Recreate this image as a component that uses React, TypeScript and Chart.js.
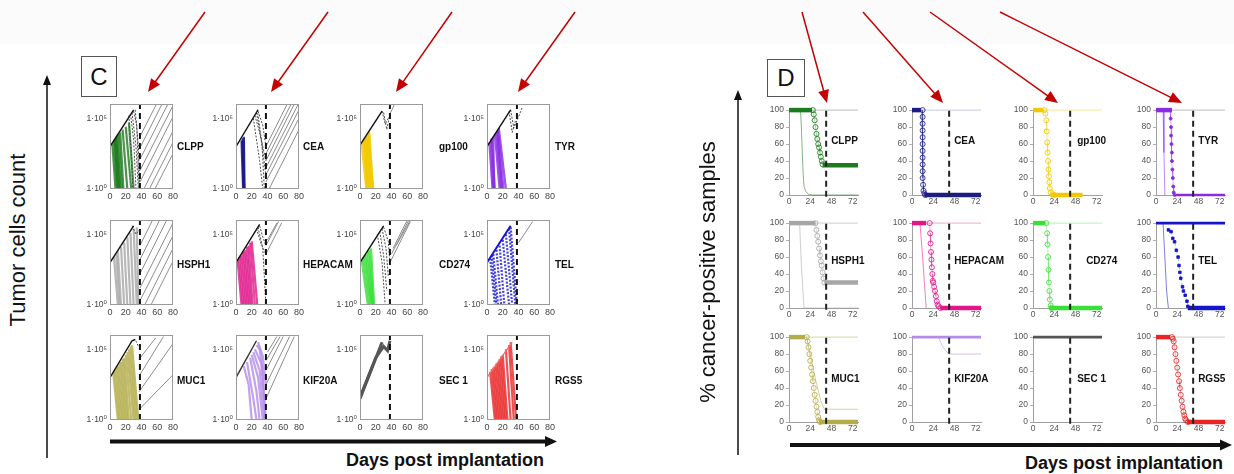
import React, { useEffect, useRef } from "react";
import { Chart, registerables } from "chart.js";
Chart.register(...registerables);

const FONT = "'Liberation Sans', 'DejaVu Sans', Arial, sans-serif";

const GENES = ["CLPP", "CEA", "gp100", "TYR", "HSPH1", "HEPACAM", "CD274", "TEL", "MUC1", "KIF20A", "SEC 1", "RGS5"];
const GENE_COLORS = ["#1d7a1d", "#1c1c85", "#f2c900", "#8a2be2", "#a6a6a6", "#e0168a", "#38e038", "#1515cc", "#b3ac4a", "#b48be8", "#555555", "#e82525"];

// ---------- Panel C: tumor cell counts (log10 exponents), polylines [day, exp, day, exp, ...]
const C_X_TICKS = [0, 20, 40, 60, 80];
const C_Y_LABELS = ["1·10⁰", "1·10⁵"];
const C_THRESHOLD_DAY = 38;

const C_GROWTH = [
  [[0, 3.0, 30, 5.6]],
  [[0, 3.0, 28, 5.6]],
  [[0, 3.1, 28, 5.5]],
  [[0, 3.0, 30, 5.6]],
  [[0, 3.0, 30, 5.6]],
  [[0, 3.0, 30, 5.7]],
  [[0, 3.0, 30, 5.6]],
  [[0, 3.0, 30, 5.6]],
  [[0, 3.0, 28, 5.6, 32, 5.7]],
  [[0, 3.0, 26, 5.6]],
  [[0, 1.5, 28, 5.5], [0, 1.6, 20, 4.4, 30, 5.2, 35, 4.9, 38, 5.6]],
  [[0, 3.0, 32, 5.5]],
];
const C_GROWTH_COLORS = ["#111", "#111", "#111", "#111", "#111", "#111", "#111", "#1515cc", "#111", "#333", "#555", "#f07070"];
const C_GROWTH_WIDTHS = [1.4, 1.4, 1.4, 1.4, 1.4, 1.4, 1.4, 2, 1.4, 1.4, 3, 1.4];

const C_RESPONSE = [
  [[3, 3.2, 7, 0], [5, 3.4, 9, 0], [6, 3.5, 10, 0], [7, 3.6, 11, 0], [8, 3.7, 12, 0], [9, 3.8, 13, 0], [11, 3.9, 15, 0], [13, 4.0, 17, 0], [16, 4.2, 22, 0], [20, 4.4, 27, 0], [24, 4.7, 30, 0]],
  [[7, 3.4, 9, 0], [8, 3.5, 9.5, 0], [9, 3.6, 10, 0], [10, 3.7, 11, 0], [8, 3.4, 10.5, 0]],
  [[2, 3.2, 8, 0], [4, 3.4, 10, 0], [5, 3.5, 9, 0], [6, 3.6, 12, 0], [7, 3.6, 11, 0], [8, 3.7, 14, 0], [9, 3.7, 13, 0], [10, 3.8, 15, 0], [11, 3.9, 17, 0], [12, 4.0, 16, 0]],
  [[3, 3.3, 7, 0], [5, 3.5, 8, 0], [6, 3.6, 10, 0], [8, 3.7, 9, 0], [10, 3.9, 16, 0], [12, 4.0, 18, 0], [13, 4.1, 19, 0], [14, 4.2, 21, 0], [15, 4.3, 24, 0]],
  [[5, 3.4, 10, 0], [8, 3.6, 12, 0], [10, 3.8, 14, 0], [14, 4.1, 18, 0], [18, 4.4, 22, 0], [22, 4.8, 26, 0], [26, 5.1, 30, 0], [30, 5.4, 34, 0], [34, 5.5, 36, 0]],
  [[2, 3.2, 7, 0], [4, 3.4, 9, 0], [6, 3.5, 11, 0], [8, 3.7, 13, 0], [10, 3.8, 15, 0], [12, 3.9, 17, 0], [14, 4.1, 19, 0], [16, 4.2, 21, 0], [18, 4.4, 24, 0], [20, 4.5, 27, 0]],
  [[2, 3.2, 10, 0], [4, 3.4, 12, 0], [6, 3.5, 14, 0], [8, 3.6, 15, 0], [10, 3.8, 16, 0], [12, 3.9, 17, 0], [14, 4.0, 18, 0]],
  [[4, 3.3, 10, 0], [6, 3.5, 12, 0], [8, 3.6, 14, 0], [12, 3.9, 18, 0], [16, 4.2, 22, 0], [20, 4.6, 28, 0], [24, 5.0, 32, 0], [28, 5.4, 36, 0], [30, 5.5, 38, 0]],
  [[4, 3.4, 10, 0], [6, 3.5, 12, 0], [8, 3.7, 14, 0], [10, 3.8, 16, 0], [12, 4.0, 18, 0], [14, 4.1, 20, 0], [16, 4.3, 22, 0], [18, 4.4, 24, 0], [20, 4.6, 27, 0], [22, 4.8, 30, 0], [24, 5.0, 32, 0], [26, 5.2, 34, 0], [28, 5.3, 36, 0]],
  [[10, 3.8, 16, 2.5, 20, 0], [14, 4.1, 22, 1.5, 26, 0], [18, 4.4, 26, 2.0, 30, 0], [20, 4.6, 28, 3.0, 34, 0], [22, 4.8, 30, 3.5, 36, 0], [24, 5.0, 32, 4.0, 38, 0], [26, 5.3, 30, 5.0, 34, 3.5, 37, 0], [28, 5.5, 34, 4.5, 38, 2.5]],
  [],
  [[4, 3.4, 10, 0], [6, 3.6, 12, 0], [8, 3.7, 14, 0], [10, 3.8, 16, 0], [12, 4.0, 18, 0], [14, 4.1, 20, 0], [16, 4.3, 22, 0], [18, 4.5, 24, 0], [20, 4.6, 26, 0], [24, 5.0, 30, 0], [28, 5.3, 34, 0], [30, 5.5, 37, 0]],
];
const C_RESPONSE_DOTTED = [false, false, false, false, false, false, false, true, false, false, false, false];

const C_DECLINE = [
  [[24, 5.2, 27, 2.5, 29, 0], [26, 5.3, 30, 3.5, 33, 0], [28, 5.4, 33, 3.0, 36, 0], [30, 5.5, 34, 4.5, 37, 0], [32, 5.6, 36, 3.0, 38, 0]],
  [[22, 5.0, 30, 2.0, 34, 0], [24, 5.2, 30, 4.0, 38, 2.0], [26, 5.4, 32, 3.5, 38, 1.0], [27, 5.6, 33, 3.2, 36, 0], [28, 5.5, 34, 4.5, 38, 3.0]],
  [[28, 5.5, 32, 4.6, 36, 5.0], [30, 5.4, 34, 4.2, 38, 5.3]],
  [[28, 5.5, 32, 4.0, 36, 4.8], [30, 5.6, 34, 4.3, 40, 5.1, 45, 5.8]],
  [[28, 5.6, 33, 5.0, 37, 5.3]],
  [[26, 5.4, 32, 4.3, 38, 3.6], [28, 5.5, 34, 4.0, 37, 1.0, 38, 0], [30, 5.6, 34, 4.8, 38, 4.2]],
  [[22, 5.0, 28, 3.0, 32, 0], [25, 5.2, 30, 3.5, 34, 1.0], [28, 5.4, 33, 4.0, 36, 2.0], [30, 5.5, 36, 4.5, 38, 3.0]],
  [],
  [[26, 5.5, 32, 5.7, 36, 5.2]],
  [],
  [],
  [],
];

const C_REGROWTH = [
  [[38, 0.5, 80, 5.1], [38, 1.3, 80, 5.9], [38, 2.1, 73.5, 6.0], [38, 2.9, 66, 6.0], [38, 3.7, 59, 6.0], [43, 0, 80, 4.1], [50, 0, 80, 3.3], [57, 0, 80, 2.5]],
  [[38, 1.0, 80, 5.6], [38, 2.0, 74, 6.0], [38, 3.0, 65, 6.0], [38, 1.5, 80, 6.1], [38, 0.5, 80, 5.0], [42, 0, 80, 4.2], [38, 2.5, 70, 6.0]],
  [[38, 5.3, 44, 6.0]],
  [],
  [[38, 0.3, 80, 4.9], [38, 1.2, 80, 5.8], [38, 2.2, 72, 6.0], [38, 3.2, 63, 6.0], [44, 0, 80, 4.0], [52, 0, 80, 3.1], [38, 4.2, 54, 6.0]],
  [[38, 3.6, 58, 5.8], [38, 4.2, 54, 5.9], [40, 4.6, 52, 5.8]],
  [[38, 3.0, 64, 5.9], [40, 3.6, 62, 6.0], [42, 4.0, 60, 6.0], [46, 4.2, 64, 6.0]],
  [[40, 4.4, 58, 5.9]],
  [[37, 2.0, 80, 5.4], [38, 0.8, 80, 3.2], [37, 4.3, 58, 5.8], [38, 3.2, 68, 5.9]],
  [[38, 2.5, 68, 5.9], [38, 3.5, 60, 5.9], [38, 4.2, 56, 5.9], [40, 4.8, 52, 5.9], [38, 1.5, 74, 5.9]],
  [],
  [],
];

// ---------- Panel D: % cancer-positive samples, polylines [day, %, day, %, ...]
const D_X_TICKS = [0, 24, 48, 72];
const D_Y_TICKS = [0, 20, 40, 60, 80, 100];
const D_THRESHOLD_DAY = 42;
const D_TOP_COLORS = ["#bbbbbb", "#c8c8e0", "#f5e79a", "#bdbdbd", "#cfcfcf", "#f2a6cc", "#b5f0b5", "#1515cc", "#d8d4a0", "#b48be8", "#555555", "#cccccc"];

const D_THIN = [
  [0, 100, 13, 100, 14, 80, 15, 50, 16, 25, 17, 10, 19, 4, 22, 1, 26, 0, 78, 0],
  [0, 100, 11, 100, 12, 60, 13, 5, 14, 0],
  [],
  [0, 100, 8, 100, 9, 50, 10, 0],
  [0, 100, 12, 100, 14, 50, 17, 0, 78, 0],
  [0, 100, 9, 100, 12, 60, 16, 0],
  [],
  [0, 100, 8, 100, 10, 60, 12, 20, 14, 0],
  [0, 100, 20, 100, 24, 80, 30, 50, 36, 25, 40, 15, 78, 15],
  [0, 100, 30, 100, 34, 90, 38, 84, 42, 80, 78, 80],
  [],
  [],
];

const D_MARKED = [
  [27, 100, 28, 95, 29, 88, 30, 80, 31, 72, 32, 66, 33, 60, 34, 56, 35, 50, 36, 45, 37, 40, 38, 36],
  [12, 100, 12, 92, 12, 84, 12, 76, 12, 68, 12, 60, 12, 52, 12, 44, 12, 36, 12, 28, 12, 20, 12.5, 12, 13, 5, 14, 2, 15, 0],
  [13, 100, 14, 96, 15, 88, 15.5, 75, 16, 62, 16.5, 50, 17, 40, 17.5, 30, 18, 22, 18.5, 15, 19, 8, 20, 3, 22, 1, 24, 0],
  [16, 100, 16.5, 90, 17, 80, 17, 70, 17.5, 60, 18, 50, 18, 40, 18.5, 30, 19, 20, 19.5, 10, 20, 3, 21, 0],
  [30, 100, 31, 92, 32, 85, 33, 78, 34, 70, 35, 62, 36, 55, 37, 50, 38, 42, 39, 35, 40, 30],
  [20, 100, 20.5, 88, 21, 76, 21.5, 66, 22, 57, 22.5, 48, 23, 40, 23.5, 32, 24, 30, 25, 25, 26, 20, 27, 14, 28, 8, 29, 4, 30, 2, 32, 0],
  [15, 100, 16, 88, 16.5, 75, 17, 60, 17.5, 45, 18, 30, 18.5, 20, 19, 10, 20, 3, 21, 0],
  [14, 92, 17, 90, 19, 82, 21, 78, 23, 68, 25, 60, 26, 50, 27, 42, 28, 35, 30, 25, 31, 20, 33, 15, 35, 8, 36, 2, 38, 0],
  [20, 100, 21, 95, 22, 88, 23, 80, 24, 72, 25, 64, 26, 56, 27, 48, 28, 40, 29, 32, 30, 25, 31, 18, 32, 12, 33, 6, 34, 2, 35, 0],
  [],
  [],
  [18, 100, 19, 98, 20, 95, 21, 88, 22, 80, 23, 72, 24, 64, 25, 56, 26, 48, 27, 40, 28, 32, 29, 25, 30, 18, 31, 12, 32, 8, 33, 4, 34, 2, 36, 0],
];
const D_MARKER = ["ring", "ring", "ring", "dot", "ring", "ring", "ring", "square", "ring", "none", "none", "ring"];

const D_PLATEAU = [
  [[0, 100, 26, 100], [38, 35, 78, 35]],
  [[0, 100, 10, 100], [14, 0, 78, 0]],
  [[0, 100, 12, 100], [20, 0, 56, 0]],
  [[0, 100, 18, 100]],
  [[0, 100, 30, 100], [40, 30, 78, 30]],
  [[0, 100, 16, 100], [32, 0, 78, 0]],
  [[0, 100, 14, 100], [18, 0, 78, 0]],
  [[36, 0, 78, 0]],
  [[0, 100, 18, 100], [34, 0, 78, 0]],
  [],
  [],
  [[0, 100, 16, 100], [35, 0, 78, 0]],
];
const D_BAND = [
  [], [], [], [[22, 0, 78, 0]], [], [], [], [[0, 100, 78, 100]], [], [[0, 100, 78, 100]], [[0, 100, 78, 100]], [],
];

// ---------- layout
const C_COLS = [110, 236, 360, 487];
const C_ROWS = [102, 218, 333];
const C_PW = 64, C_PH = 87;
const C_LABEL_DX = [3, 3, 15, 4];
const C_LABEL_Y = [146, 264, 380];
const D_COLS = [789, 912, 1033, 1156];
const D_ROWS = [109, 222, 336];
const D_PW = 69, D_PH = 86;
const D_LABEL_Y = [140, 260, 378];
const D_LABEL_EXTRA = [0, 0, 2, 0, 0, 0, 11, 0, 0, 0, 2, 0];

function hexA(hex: string, a: number) {
  const h = hex.replace("#", "");
  const f = h.length === 3 ? h.split("").map((c) => c + c).join("") : h;
  const r = parseInt(f.slice(0, 2), 16), g = parseInt(f.slice(2, 4), 16), b = parseInt(f.slice(4, 6), 16);
  return `rgba(${r},${g},${b},${a})`;
}
function logPts(arr: number[]) {
  const out: any[] = [];
  for (let k = 0; k < arr.length; k += 2) out.push({ x: arr[k], y: Math.pow(10, arr[k + 1]) });
  return out;
}
function linPts(arr: number[]) {
  const out: any[] = [];
  for (let k = 0; k < arr.length; k += 2) out.push({ x: arr[k], y: arr[k + 1] });
  return out;
}
function lineDs(data: any[], color: string, width: number, dash?: number[], extra?: any) {
  return {
    data, borderColor: color, backgroundColor: color, borderWidth: width, borderDash: dash || [],
    pointRadius: 0, fill: false, tension: 0, ...(extra || {}),
  };
}

const boxPlugin = {
  id: "box",
  afterDraw(chart: any) {
    const { ctx, chartArea: a } = chart;
    ctx.save();
    ctx.strokeStyle = "#9a9a9a";
    ctx.lineWidth = 1;
    ctx.strokeRect(Math.round(a.left) + 0.5, Math.round(a.top) + 0.5, Math.round(a.right - a.left) - 1, Math.round(a.bottom - a.top) - 1);
    ctx.restore();
  },
};

function buildC(i: number) {
  const color = GENE_COLORS[i];
  const layers: any[] = [];
  C_REGROWTH[i].forEach((l) => layers.push(lineDs(logPts(l), "#8c8c8c", 1)));
  C_RESPONSE[i].forEach((l) => layers.push(lineDs(logPts(l), hexA(color, 0.8), 2.2, C_RESPONSE_DOTTED[i] ? [2, 1.5] : undefined)));
  C_DECLINE[i].forEach((l) => layers.push(lineDs(logPts(l), "#4a4a4a", 1, [2, 1.5])));
  C_GROWTH[i].forEach((l) => layers.push(lineDs(logPts(l), C_GROWTH_COLORS[i], C_GROWTH_WIDTHS[i])));
  layers.push(lineDs(logPts([C_THRESHOLD_DAY, 0, C_THRESHOLD_DAY, 6]), "#111", 2, [6, 4]));
  return {
    type: "line",
    data: { datasets: layers.reverse() },
    options: {
      animation: false, responsive: false, devicePixelRatio: 1, events: [],
      layout: { padding: { top: 6, right: 6, left: 0, bottom: 0 } },
      plugins: { legend: { display: false }, tooltip: { enabled: false } },
      scales: {
        x: {
          type: "linear", min: 0, max: 80,
          afterBuildTicks: (s: any) => { s.ticks = C_X_TICKS.map((v) => ({ value: v })); },
          ticks: { font: { size: 9, family: FONT }, color: "#444", padding: 2, maxRotation: 0, autoSkip: false },
          grid: { display: false, drawTicks: false }, border: { display: false },
          afterFit: (s: any) => { s.height = 15; },
        },
        y: {
          type: "logarithmic", min: 1, max: 1e6,
          afterBuildTicks: (s: any) => { s.ticks = [{ value: 1 }, { value: 1e5 }]; },
          ticks: {
            autoSkip: false, font: { size: 8.5, family: FONT }, color: "#444", padding: 3,
            callback: (v: any) => (Math.abs(v - 1) < 1e-6 ? C_Y_LABELS[0] : Math.abs(v - 1e5) < 1 ? C_Y_LABELS[1] : ""),
          },
          grid: { display: false, drawTicks: false }, border: { display: false },
          afterFit: (s: any) => { s.width = 30; },
        },
      },
    },
    plugins: [boxPlugin],
  };
}

function buildD(i: number) {
  const color = GENE_COLORS[i];
  const layers: any[] = [];
  const clip = 10;
  layers.push(lineDs(linPts([0, 100, 78, 100]), D_TOP_COLORS[i], 1, undefined, { clip }));
  if (D_THIN[i].length) layers.push(lineDs(linPts(D_THIN[i]), hexA(color, 0.55), 1, undefined, { clip }));
  if (D_MARKED[i].length) {
    const m = D_MARKER[i];
    const extra: any = { clip, pointBorderColor: hexA(color, 0.85), pointBorderWidth: 1 };
    if (m === "ring") Object.assign(extra, { pointRadius: 2.5, pointStyle: "circle", pointBackgroundColor: "rgba(255,255,255,0)" });
    if (m === "dot") Object.assign(extra, { pointRadius: 1.5, pointStyle: "circle", pointBackgroundColor: color });
    if (m === "square") Object.assign(extra, { pointRadius: 1.8, pointStyle: "rect", pointBackgroundColor: color });
    layers.push(lineDs(linPts(D_MARKED[i]), hexA(color, 0.45), 0.8, m === "square" ? [2, 2] : undefined, extra));
  }
  D_BAND[i].forEach((s) => layers.push(lineDs(linPts(s), color, 2.6, undefined, { clip })));
  D_PLATEAU[i].forEach((s) => layers.push(lineDs(linPts(s), color, 4.5, undefined, { clip })));
  layers.push(lineDs(linPts([D_THRESHOLD_DAY, -2, D_THRESHOLD_DAY, 100]), "#222", 2, [6, 4], { clip }));
  return {
    type: "line",
    data: { datasets: layers.reverse() },
    options: {
      animation: false, responsive: false, devicePixelRatio: 1, events: [],
      layout: { padding: { top: 6, right: 6, left: 0, bottom: 0 } },
      plugins: { legend: { display: false }, tooltip: { enabled: false } },
      scales: {
        x: {
          type: "linear", min: 0, max: 78,
          afterBuildTicks: (s: any) => { s.ticks = D_X_TICKS.map((v) => ({ value: v })); },
          ticks: { font: { size: 8.5, family: FONT }, color: "#555", padding: 2, maxRotation: 0, autoSkip: false },
          grid: { display: false, drawTicks: false }, border: { display: true, color: "#a0a0a0", width: 1 },
          afterFit: (s: any) => { s.height = 14; },
        },
        y: {
          type: "linear", min: 0, max: 100,
          afterBuildTicks: (s: any) => { s.ticks = D_Y_TICKS.map((v) => ({ value: v })); },
          ticks: { font: { size: 8.5, family: FONT }, color: "#555", padding: 2, autoSkip: false },
          grid: { display: true, drawOnChartArea: false, drawTicks: true, tickLength: 3, color: "#b0b0b0" },
          border: { display: true, color: "#a0a0a0", width: 1 },
          afterFit: (s: any) => { s.width = 22; },
        },
      },
    },
  };
}

function Mini({ left, top, width, height, build }: any) {
  const ref = useRef<HTMLCanvasElement>(null);
  useEffect(() => {
    const chart = new Chart(ref.current as HTMLCanvasElement, build() as any);
    return () => chart.destroy();
  }, []);
  return <canvas ref={ref} width={width} height={height} style={{ position: "absolute", left, top, width, height }} />;
}

function Arrow({ x1, y1, x2, y2, color, w, hl, hw }: any) {
  const dx = x2 - x1, dy = y2 - y1;
  const len = Math.hypot(dx, dy);
  const ux = dx / len, uy = dy / len;
  const bx = x2 - ux * hl, by = y2 - uy * hl;
  const px = -uy * hw / 2, py = ux * hw / 2;
  return (
    <g>
      <line x1={x1} y1={y1} x2={bx + ux} y2={by + uy} stroke={color} strokeWidth={w} />
      <polygon points={`${x2},${y2} ${bx + px},${by + py} ${bx - px},${by - py}`} fill={color} />
    </g>
  );
}

export default function App() {
  const minis: any[] = [];
  const labels: any[] = [];
  GENES.forEach((g, i) => {
    const r = Math.floor(i / 4), c = i % 4;
    const px = C_COLS[c], py = C_ROWS[r];
    minis.push(<Mini key={"c" + i} left={px - 30} top={py - 6} width={30 + C_PW + 6} height={6 + C_PH + 15} build={() => buildC(i)} />);
    labels.push(
      <div key={"cl" + i} style={{ position: "absolute", left: px + C_PW + C_LABEL_DX[c], top: C_LABEL_Y[r], transform: "translateY(-50%)", font: `bold 10px ${FONT}`, color: "#111", whiteSpace: "nowrap" }}>{g}</div>
    );
    const dx = D_COLS[c], dy = D_ROWS[r];
    minis.push(<Mini key={"d" + i} left={dx - 22} top={dy - 6} width={22 + D_PW + 6} height={6 + D_PH + 14} build={() => buildD(i)} />);
    const dashPx = dx + (D_THRESHOLD_DAY / 78) * D_PW;
    labels.push(
      <div key={"dl" + i} style={{ position: "absolute", left: dashPx + 5 + D_LABEL_EXTRA[i], top: D_LABEL_Y[r], transform: "translateY(-50%)", font: `bold 10px ${FONT}`, color: "#111", whiteSpace: "nowrap" }}>{g}</div>
    );
  });

  const red = "#c40000";
  return (
    <div style={{ position: "absolute", left: 0, top: 0, width: 1234, height: 474, background: "#fff", overflow: "hidden", fontFamily: FONT }}>
      <div style={{ position: "absolute", left: 0, top: 0, width: 1234, height: 44, background: "#fbfbfb" }} />

      <div style={{ position: "absolute", left: 81, top: 56, width: 34, height: 39, border: "1.5px solid #555", display: "flex", alignItems: "center", justifyContent: "center", font: `24px ${FONT}`, color: "#111" }}>C</div>
      <div style={{ position: "absolute", left: 767, top: 59, width: 36, height: 36, border: "1.5px solid #555", display: "flex", alignItems: "center", justifyContent: "center", font: `24px ${FONT}`, color: "#111" }}>D</div>

      {minis}
      {labels}

      <div style={{ position: "absolute", left: 18, top: 240, transform: "translate(-50%,-50%) rotate(-90deg)", font: `22px ${FONT}`, color: "#111", whiteSpace: "nowrap" }}>Tumor cells count</div>
      <div style={{ position: "absolute", left: 708, top: 272, transform: "translate(-50%,-50%) rotate(-90deg)", font: `22px ${FONT}`, color: "#111", whiteSpace: "nowrap" }}>% cancer-positive samples</div>
      <div style={{ position: "absolute", left: 445, top: 460, transform: "translate(-50%,-50%)", font: `bold 18px ${FONT}`, color: "#111", whiteSpace: "nowrap" }}>Days post implantation</div>
      <div style={{ position: "absolute", left: 1124, top: 463, transform: "translate(-50%,-50%)", font: `bold 18px ${FONT}`, color: "#111", whiteSpace: "nowrap" }}>Days post implantation</div>

      <svg width={1234} height={474} style={{ position: "absolute", left: 0, top: 0, pointerEvents: "none" }}>
        <Arrow x1={205} y1={12} x2={148} y2={92} color={red} w={1.5} hl={13} hw={11} />
        <Arrow x1={328} y1={12} x2={271} y2={92} color={red} w={1.5} hl={13} hw={11} />
        <Arrow x1={452} y1={12} x2={396} y2={92} color={red} w={1.5} hl={13} hw={11} />
        <Arrow x1={575} y1={12} x2={518} y2={92} color={red} w={1.5} hl={13} hw={11} />
        <Arrow x1={802} y1={12} x2={827} y2={103} color={red} w={1.5} hl={13} hw={11} />
        <Arrow x1={863} y1={12} x2={943} y2={103} color={red} w={1.5} hl={13} hw={11} />
        <Arrow x1={930} y1={12} x2={1058} y2={103} color={red} w={1.5} hl={13} hw={11} />
        <Arrow x1={1000} y1={12} x2={1182} y2={103} color={red} w={1.5} hl={13} hw={11} />

        <Arrow x1={47} y1={458} x2={47} y2={75} color="#111" w={1.5} hl={10} hw={8} />
        <Arrow x1={738} y1={455} x2={738} y2={90} color="#111" w={1.5} hl={10} hw={8} />

        <Arrow x1={110} y1={441.5} x2={557} y2={441.5} color="#111" w={4} hl={12} hw={11} />
        <Arrow x1={790} y1={445} x2={1232} y2={445} color="#111" w={4} hl={12} hw={11} />
      </svg>
    </div>
  );
}
